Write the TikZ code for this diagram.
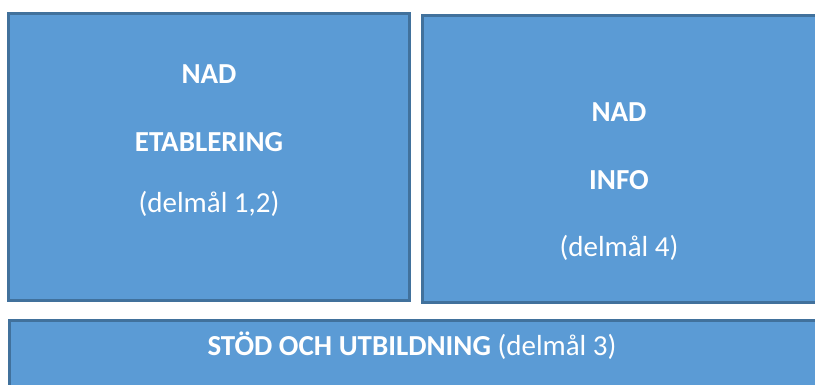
\documentclass[tikz,border=0pt]{standalone}
\usepackage{fontspec}
\setmainfont{Carlito}
\definecolor{boxfill}{HTML}{5B9BD5}
\definecolor{boxline}{HTML}{41719C}

\begin{document}
\begin{tikzpicture}[x=1pt,y=-1pt]
	\tikzstyle{goal}=[draw=boxline,fill=boxfill,line width=3pt,inner sep=0pt]
	\tikzstyle{txt}=[anchor=base,text=white,inner sep=0pt,font=\fontsize{29}{35}\selectfont]
	\tikzstyle{head}=[txt,font=\fontsize{29}{35}\selectfont\bfseries]
	\useasboundingbox (0,0) rectangle (815,385);
	\clip (0,0) rectangle (815,385);
	\node (etab) at (209,157) [goal,minimum width=401pt,minimum height=287pt] {};
	\node (info) at (632.5,159) [goal,minimum width=420pt,minimum height=287pt] {};
	\node (stod) at (419.5,360.5) [goal,minimum width=821pt,minimum height=80pt] {};
	\node (etab1) at (209,84) [head] {NAD};
	\node (etab2) at (209,152) [head] {ETABLERING};
	\node (etab3) at (209,213) [txt] {(delmål 1,2)};
	\node (info1) at (619,122) [head] {NAD};
	\node (info2) at (619,190) [head] {INFO};
	\node (info3) at (619,257) [txt] {(delmål 4)};
	\node (stod1) at (412,355) [txt] {\textbf{STÖD OCH UTBILDNING} (delmål 3)};
\end{tikzpicture}
\end{document}
